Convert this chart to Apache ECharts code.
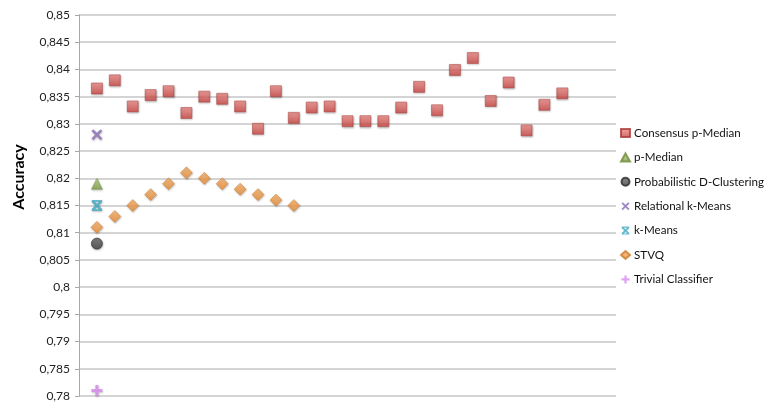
<!DOCTYPE html>
<html>
<head>
<meta charset="utf-8">
<script src="https://cdn.jsdelivr.net/npm/echarts@6/dist/echarts.min.js"></script>
<style>
  html, body { margin: 0; padding: 0; background: #fff; }
  #chart { width: 767px; height: 406px; }
</style>
</head>
<body>
<div id="chart"></div>
<script>
// Run index on the horizontal axis (no labels shown)
const runs = [1, 2, 3, 4, 5, 6, 7, 8, 9, 10, 11, 12, 13, 14, 15, 16, 17, 18, 19, 20, 21, 22, 23, 24, 25, 26, 27];

// Accuracy per run
const consensusPMedian = [0.8365, 0.838, 0.8332, 0.8353, 0.836, 0.832, 0.835, 0.8346, 0.8332, 0.8291,
  0.836, 0.8311, 0.833, 0.8332, 0.8305, 0.8305, 0.8305, 0.833, 0.8368, 0.8325,
  0.8399, 0.8421, 0.8342, 0.8376, 0.8288, 0.8335, 0.8356];
const stvq = [0.811, 0.813, 0.815, 0.817, 0.819, 0.821, 0.82, 0.819, 0.818, 0.817, 0.816, 0.815];
const pMedian = [0.819];
const probDClustering = [0.808];
const relationalKMeans = [0.828];
const kMeans = [0.815];
const trivialClassifier = [0.781];

// Y-axis range
const yMin = 0.78, yMax = 0.85, yStep = 0.005;

const pair = (vals) => vals.map((v, i) => [runs[i], v]);

const grad = (top, bottom) => new echarts.graphic.LinearGradient(0, 0, 0, 1, [
  { offset: 0, color: top }, { offset: 1, color: bottom }
]);

const SYM_X = 'path://M0,1.7 L1.7,0 L5,3.3 L8.3,0 L10,1.7 L6.7,5 L10,8.3 L8.3,10 L5,6.7 L1.7,10 L0,8.3 L3.3,5 Z';
const SYM_PLUS = 'path://M3.6,0 L6.4,0 L6.4,3.6 L10,3.6 L10,6.4 L6.4,6.4 L6.4,10 L3.6,10 L3.6,6.4 L0,6.4 L0,3.6 L3.6,3.6 Z';
const SYM_STAR = 'path://M0,1.7 L1.7,0 L5,3.3 L8.3,0 L10,1.7 L6.7,5 L10,8.3 L8.3,10 L5,6.7 L1.7,10 L0,8.3 L3.3,5 Z M0.3,0 L9.7,0 L9.7,1.5 L0.3,1.5 Z M0.3,8.5 L9.7,8.5 L9.7,10 L0.3,10 Z';

const shadow = { shadowBlur: 2, shadowOffsetX: 0.5, shadowOffsetY: 1, shadowColor: 'rgba(0,0,0,0.3)' };

function scatter(name, data, symbol, size, itemStyle) {
  return {
    name, type: 'scatter', data: pair(data), symbol, symbolSize: size,
    itemStyle: Object.assign({}, shadow, itemStyle),
    emphasis: { disabled: true }, z: 3
  };
}

const chart = echarts.init(document.getElementById('chart'), null, { renderer: 'canvas' });
chart.setOption({
  animation: false,
  backgroundColor: '#fff',
  textStyle: { fontFamily: 'Lato, "Open Sans", sans-serif' },
  grid: { left: 79, right: 151, top: 15, bottom: 10 },
  graphic: [{
    type: 'text', x: 19, y: 177, rotation: Math.PI / 2,
    style: {
      text: 'Accuracy', fontSize: 16, fontWeight: 'bold', fill: '#000',
      fontFamily: 'Lato, sans-serif', textAlign: 'center', textVerticalAlign: 'middle'
    }
  }],
  xAxis: {
    type: 'value', min: 0, max: 30,
    axisLine: { show: false }, axisTick: { show: false },
    axisLabel: { show: false }, splitLine: { show: false }
  },
  yAxis: {
    type: 'value', min: yMin, max: yMax, interval: yStep,
    axisLine: { show: true, lineStyle: { color: '#a8a8a8', width: 1 } },
    axisTick: { show: true, inside: false, length: 4, lineStyle: { color: '#a8a8a8' } },
    axisLabel: {
      margin: 9, fontSize: 12, color: '#222',
      formatter: (v) => String(+v.toFixed(3)).replace('.', ',')
    },
    splitLine: { show: true, lineStyle: { color: '#c6c6c6', width: 1.5 } }
  },
  legend: {
    orient: 'vertical', left: 615, top: 122, itemGap: 12.4,
    itemWidth: 9, itemHeight: 8,
    textStyle: { fontSize: 11.6, color: '#111', padding: [0, 0, 0, -1] },
    data: ['Consensus p-Median', 'p-Median', 'Probabilistic D-Clustering', 'Relational k-Means', 'k-Means', 'STVQ', 'Trivial Classifier']
  },
  series: [
    scatter('Consensus p-Median', consensusPMedian, 'rect', 11,
      { color: grad('#f08c89', '#c8423f'), borderColor: '#a83a37', borderWidth: 0.6 }),
    scatter('p-Median', pMedian, 'triangle', 11,
      { color: grad('#b6d37a', '#7f9d45'), borderColor: '#6f8a3a', borderWidth: 0.5 }),
    scatter('Probabilistic D-Clustering', probDClustering, 'circle', 11,
      { color: grad('#6a6a6a', '#3a3a3a'), borderColor: '#2a2a2a', borderWidth: 0.8 }),
    scatter('Relational k-Means', relationalKMeans, SYM_X, 11,
      { color: '#8a6fb5' }),
    scatter('k-Means', kMeans, SYM_STAR, 11,
      { color: '#3fa9c2' }),
    scatter('STVQ', stvq, 'diamond', 12,
      { color: grad('#fbb46e', '#ea8a2f'), borderColor: '#c97a2a', borderWidth: 0.6 }),
    scatter('Trivial Classifier', trivialClassifier, SYM_PLUS, 11,
      { color: '#d88af0' })
  ]
});
</script>
</body>
</html>
